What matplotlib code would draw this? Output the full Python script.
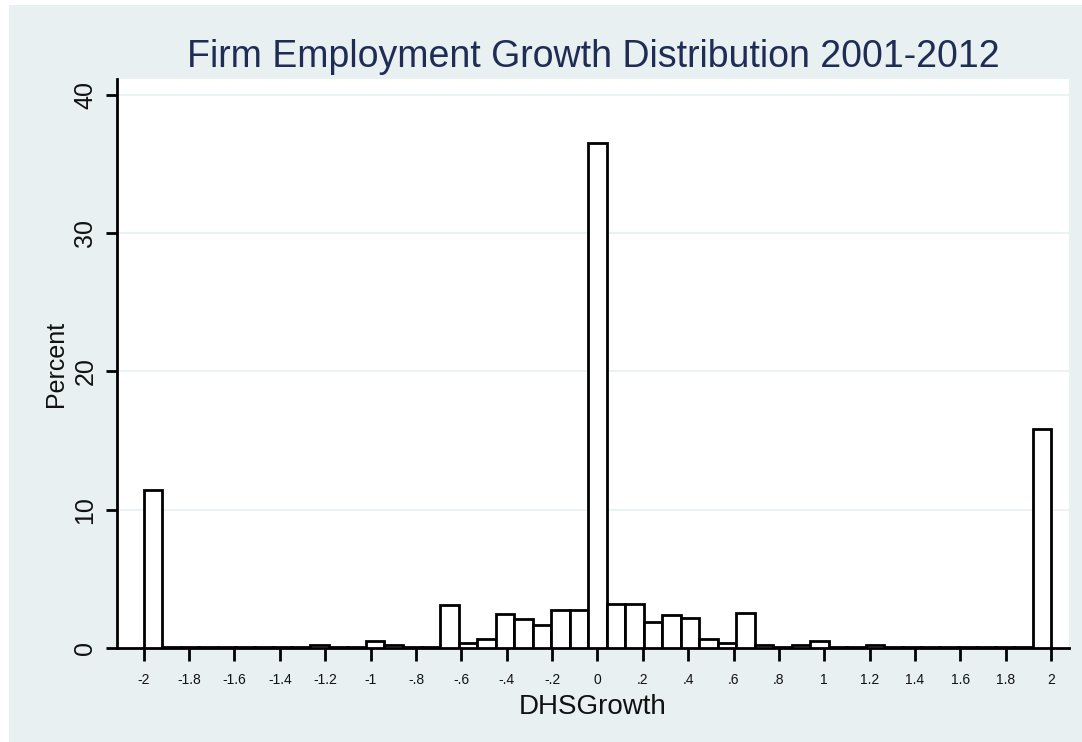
import numpy as np
import matplotlib
matplotlib.use("Agg")
from matplotlib import pyplot as plt
from matplotlib.patches import Rectangle

plt.rcParams['font.family'] = ['Liberation Sans', 'DejaVu Sans']

# histogram: 49 equal bins over [-2, 2], heights in percent
binLow = -2.0
binHigh = 2.0
percent = [
    11.4, 0.05, 0.05, 0.05, 0.05, 0.05, 0.05, 0.05, 0.05, 0.2,
    0.05, 0.05, 0.5, 0.2, 0.05, 0.05, 3.1, 0.35, 0.65, 2.45,
    2.1, 1.65, 2.75, 2.75, 36.5, 3.2, 3.2, 1.9, 2.4, 2.2,
    0.65, 0.35, 2.55, 0.2, 0.05, 0.2, 0.5, 0.05, 0.05, 0.2,
    0.05, 0.05, 0.05, 0.05, 0.05, 0.05, 0.05, 0.05, 15.8,
]
xTicks = [-2, -1.8, -1.6, -1.4, -1.2, -1, -0.8, -0.6, -0.4, -0.2, 0,
          0.2, 0.4, 0.6, 0.8, 1, 1.2, 1.4, 1.6, 1.8, 2]
xTickLabels = ["-2", "-1.8", "-1.6", "-1.4", "-1.2", "-1", "-.8", "-.6", "-.4", "-.2", "0",
               ".2", ".4", ".6", ".8", "1", "1.2", "1.4", "1.6", "1.8", "2"]
yTicks = [0, 10, 20, 30, 40]

stataBg = '#e8f0f2'
titleColor = '#1f2d55'

fig = plt.figure(figsize=(10.82, 7.42), dpi=100, facecolor='white')
fig.patches.append(Rectangle((9 / 1082, 0), 1, 737 / 742, transform=fig.transFigure,
                             facecolor=stataBg, edgecolor='none', zorder=-10))

ax = fig.add_axes([0.1079, 0.1267, 0.988 - 0.1079, 0.8935 - 0.1267])
ax.set_zorder(1)
ax.set_facecolor('white')

edges = np.linspace(binLow, binHigh, len(percent) + 1)
centers = (edges[:-1] + edges[1:]) / 2
ax.bar(centers, percent, width=edges[1] - edges[0], color='white',
       edgecolor='black', linewidth=2, zorder=3)

ax.set_xlim(-2.119, 2.079)
ax.set_ylim(0, 41.14)

for y in yTicks[1:]:
    ax.axhline(y, color=stataBg, linewidth=1.2, zorder=1)

ax.spines['top'].set_visible(False)
ax.spines['right'].set_visible(False)
ax.spines['left'].set_linewidth(2)
ax.spines['bottom'].set_linewidth(2)

ax.set_xticks(xTicks)
ax.set_xticklabels(xTickLabels, fontsize=10, color='#111111')
ax.set_yticks(yTicks)
ax.set_yticklabels([str(v) for v in yTicks], fontsize=18, color='#111111',
                   rotation=90, va='center')
ax.tick_params(axis='x', length=9, width=2, pad=9)
ax.tick_params(axis='y', length=8, width=2, pad=6)

ax.set_xlabel("DHSGrowth", fontsize=20, color='#111111', labelpad=5)
ax.set_ylabel("Percent", fontsize=18, color='#111111', labelpad=4)
ax.set_title("Firm Employment Growth Distribution 2001-2012", fontsize=27,
             color=titleColor, pad=9)

fig.savefig("out.png", dpi=100, facecolor=fig.get_facecolor())
